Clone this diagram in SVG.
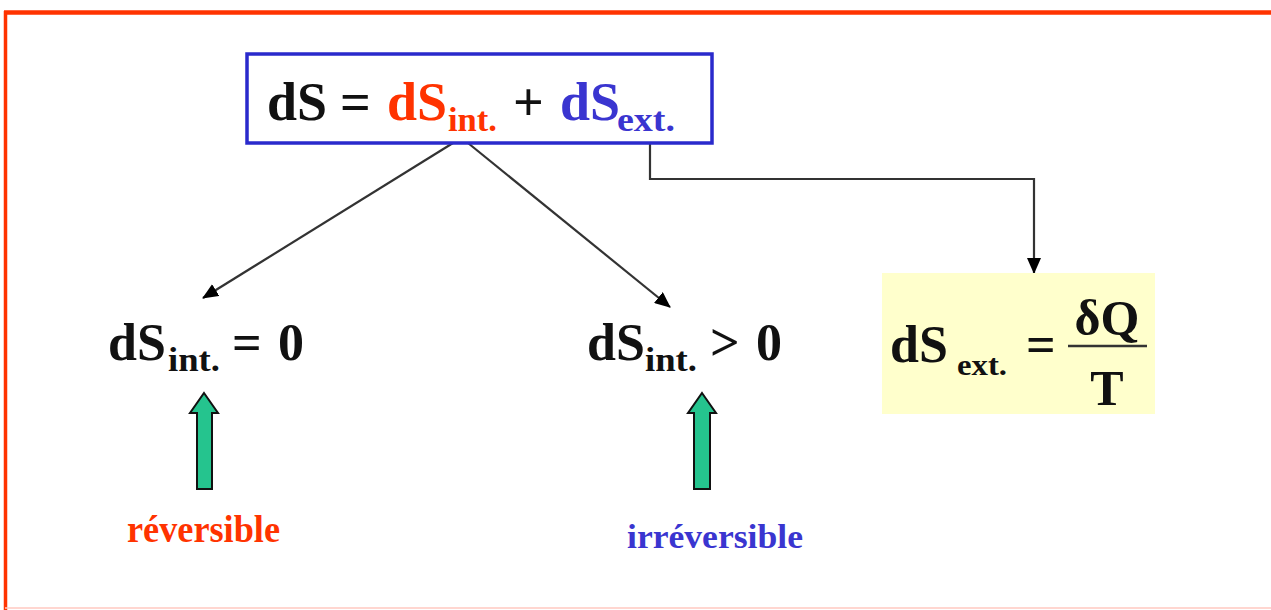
<svg xmlns="http://www.w3.org/2000/svg" width="1271" height="610" viewBox="0 0 1271 610">
<defs>
<style>
.t{font-family:"Liberation Serif","Times New Roman",serif;font-weight:bold;}
.blk{fill:#111;}
.red{fill:#ff3300;}
.blu{fill:#3a35d0;}
.con{fill:none;stroke:#333;stroke-width:2.2;}
.grn{fill:#25c48e;stroke:#111;stroke-width:2;stroke-linejoin:miter;}
</style>
<marker id="ah" markerUnits="userSpaceOnUse" markerWidth="16" markerHeight="14" refX="15" refY="7" orient="auto">
<path d="M0,0 L16,7 L0,14 Z" fill="#000"/>
</marker>
</defs>
<rect width="1271" height="610" fill="#fff"/>
<g id="frame">
<line x1="4" y1="12.5" x2="1271" y2="12.5" stroke="#ff3300" stroke-width="4.5"/>
<line x1="5.5" y1="11" x2="5.5" y2="610" stroke="#ff3300" stroke-width="3.5"/>
<line x1="5" y1="608" x2="1271" y2="608" stroke="#ffc8c0" stroke-width="1.5"/>
</g>
<g id="connectors">
<line class="con" x1="453" y1="143" x2="203" y2="298" marker-end="url(#ah)"/>
<line class="con" x1="468" y1="143" x2="670" y2="307" marker-end="url(#ah)"/>
<polyline class="con" points="650,140 650,179 1034,179 1034,273" marker-end="url(#ah)"/>
</g>
<g id="n-main">
<rect x="247" y="54" width="465" height="89" fill="#fff" stroke="#2a2acc" stroke-width="3.5"/>
<text class="t" font-size="54" y="120"><tspan class="blk" x="267">dS</tspan><tspan class="blk" x="340">=</tspan><tspan class="red" x="387">dS</tspan><tspan class="blk" x="513">+</tspan><tspan class="blu" x="560">dS</tspan></text>
<text class="t red" font-size="34" x="448" y="131" textLength="49" lengthAdjust="spacingAndGlyphs">int.</text>
<text class="t blu" font-size="34" x="617" y="131" textLength="58" lengthAdjust="spacingAndGlyphs">ext.</text>
</g>
<g id="n-rev">
<text class="t blk" font-size="52" x="108" y="360">dS</text>
<text class="t blk" font-size="34" x="168" y="371" textLength="52" lengthAdjust="spacingAndGlyphs">int.</text>
<text class="t blk" font-size="52" x="232" y="360">=</text>
<text class="t blk" font-size="52" x="278" y="360">0</text>
</g>
<g id="n-irr">
<text class="t blk" font-size="52" x="587" y="360">dS</text>
<text class="t blk" font-size="34" x="645" y="371" textLength="52" lengthAdjust="spacingAndGlyphs">int.</text>
<text class="t blk" font-size="52" x="710" y="360">&gt;</text>
<text class="t blk" font-size="52" x="756" y="360">0</text>
</g>
<g id="n-ext">
<rect x="882" y="273" width="273" height="141" fill="#ffffcc"/>
<text class="t blk" font-size="52" x="890" y="362">dS</text>
<text class="t blk" font-size="30" x="957" y="375" textLength="50" lengthAdjust="spacingAndGlyphs">ext.</text>
<text class="t blk" font-size="52" x="1026" y="362">=</text>
<line x1="1068" y1="346" x2="1147" y2="346" stroke="#333" stroke-width="2.5"/>
<text class="t blk" font-size="50" x="1107" y="335" text-anchor="middle">δQ</text>
<text class="t blk" font-size="50" x="1107" y="405" text-anchor="middle">T</text>
</g>
<g id="a-rev">
<polygon class="grn" points="204,393 218,413 212,413 212,489 197,489 197,413 190,413"/>
<text class="t red" font-size="38" x="127" y="542" textLength="153" lengthAdjust="spacingAndGlyphs">réversible</text>
</g>
<g id="a-irr">
<polygon class="grn" points="702,393 716,413 710,413 710,489 694,489 694,413 688,413"/>
<text class="t blu" font-size="33" x="627" y="548" textLength="176" lengthAdjust="spacingAndGlyphs">irréversible</text>
</g>
</svg>
